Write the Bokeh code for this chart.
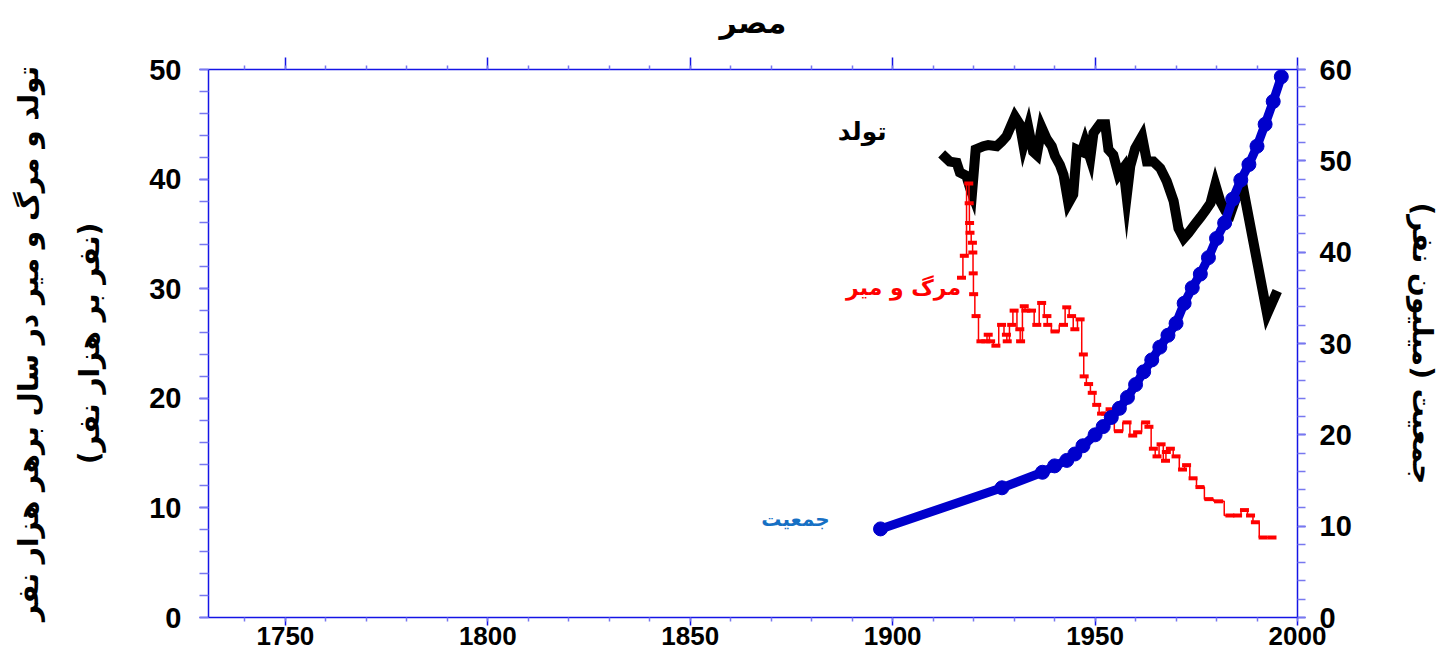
from bokeh.plotting import figure
from bokeh.models import Range1d, LinearAxis, SingleIntervalTicker, CustomJSTickFormatter
from bokeh.core.properties import value
from bokeh.embed import file_html
from bokeh.resources import INLINE

# ---------------- data ----------------
birth_years = [1912.1, 1914.1, 1915.8, 1916.6, 1918.2, 1919.1, 1919.6, 1920.5, 1922.4, 1923.6,
               1925.7, 1926.9, 1928.1, 1930.2, 1931.4, 1932.3, 1933.5, 1934.7, 1935.6, 1936.8,
               1938.0, 1939.3, 1940.1, 1941.3, 1942.2, 1943.4, 1944.6, 1945.5, 1946.7, 1947.5,
               1948.8, 1949.6, 1951.2, 1952.5, 1953.3, 1954.5, 1955.8, 1957.0, 1957.8, 1958.7,
               1959.9, 1961.6, 1962.8, 1964.4, 1966.1, 1967.7, 1969.4, 1970.6, 1971.9, 1973.1,
               1974.3, 1976.0, 1977.2, 1978.5, 1979.7, 1980.9, 1982.2, 1983.4, 1985.1, 1986.5,
               1992.5, 1995.0]
birth_rate = [42.3, 41.6, 41.5, 40.6, 40.3, 39.2, 38.7, 42.7, 43.0, 43.1,
              43.0, 43.4, 43.9, 45.7, 45.0, 43.1, 44.7, 42.5, 42.2, 44.7,
              43.7, 43.0, 42.1, 41.3, 40.4, 37.8, 38.6, 42.7, 42.5, 43.4,
              41.9, 44.2, 45.0, 45.0, 42.7, 42.2, 40.4, 41.0, 38.4, 41.2,
              42.8, 43.9, 41.6, 41.6, 41.0, 39.8, 38.0, 35.5, 34.6, 35.1,
              35.7, 36.5, 37.1, 37.8, 39.5, 38.0, 37.1, 36.8, 38.6, 39.3,
              27.7, 29.8]

death_years = [1917.0, 1917.7, 1918.8, 1918.9, 1919.0, 1919.1, 1919.7, 1919.8, 1919.9, 1920.0,
               1920.6, 1921.8, 1923.0, 1923.6, 1924.2, 1925.5, 1926.9, 1928.1, 1928.3, 1929.4,
               1930.0, 1931.4, 1931.6, 1932.5, 1932.9, 1934.3, 1935.6, 1936.8, 1938.1, 1938.3,
               1940.1, 1942.2, 1943.0, 1944.2, 1945.0, 1946.3, 1947.1, 1947.3, 1948.4, 1949.3,
               1950.4, 1951.6, 1952.6, 1953.7, 1955.8, 1957.9, 1959.3, 1960.5, 1962.5, 1963.3,
               1964.4, 1965.3, 1966.3, 1967.4, 1967.6, 1968.6, 1970.0, 1971.6, 1972.6, 1974.2,
               1975.9, 1978.1, 1980.5, 1983.3, 1985.2, 1986.9, 1988.4, 1989.6, 1991.5, 1993.7]
death_rate = [31.0, 33.0, 39.6, 37.8, 36.0, 35.1, 34.2, 33.3, 31.4, 29.5,
              27.5, 25.2, 25.2, 25.8, 25.2, 24.8, 26.7, 25.8, 25.2, 26.7,
              28.0, 26.3, 25.2, 28.4, 28.0, 28.0, 26.7, 28.7, 27.5, 26.7,
              26.1, 26.7, 28.3, 27.5, 26.3, 27.2, 24.0, 22.0, 21.3, 20.5,
              19.4, 18.6, 18.6, 19.0, 17.0, 17.8, 16.6, 16.9, 17.8, 17.4,
              15.4, 14.7, 15.8, 14.3, 15.1, 15.4, 14.7, 13.5, 13.9, 12.7,
              11.9, 10.8, 10.6, 9.3, 9.3, 9.8, 9.3, 8.7, 7.3, 7.3]

pop_years = [1897, 1927, 1937, 1940, 1943, 1945, 1947, 1950, 1952, 1954, 1956, 1958, 1960,
             1962, 1964, 1966, 1968, 1970, 1972, 1974, 1976, 1978, 1980, 1982, 1984, 1986,
             1988, 1990, 1992, 1994, 1996]
pop_millions = [9.7, 14.2, 15.9, 16.6, 17.2, 17.9, 18.8, 20.0, 20.9, 21.9, 22.9, 24.1, 25.5,
                26.9, 28.2, 29.6, 30.9, 32.2, 34.4, 36.1, 37.6, 39.4, 41.5, 43.2, 45.8, 47.9,
                49.6, 51.6, 54.0, 56.5, 59.2]

title_text = "مصر"
left_label = "تولد و مرگ و میر در سال برهر هزار نفر\n(نفر بر هزار نفر)"
right_label = "جمعیت (میلیون نفر)\u200f"
series_names = ["تولد", "مرگ و میر", "جمعیت"]

# ---------------- layout / style constants ----------------
ARABIC_FONT = "DejaVu Sans"
AXIS_BLUE = "#1414e6"
MINOR_BLUE = "#7878f0"

p = figure(width=1448, height=658,
           x_range=Range1d(1731, 2000), y_range=Range1d(0, 50),
           output_backend="svg", toolbar_location=None,
           min_border_left=208, min_border_right=151,
           min_border_top=68, min_border_bottom=41,
           background_fill_color="white", border_fill_color="white")
p.extra_y_ranges = {"pop": Range1d(0, 60)}
p.outline_line_color = None
p.xgrid.visible = False
p.ygrid.visible = False

p.title.text = title_text
p.title.align = "center"
p.title.text_font = ARABIC_FONT
p.title.text_font_size = "30px"
p.title.text_font_style = "bold"
p.title.text_color = "black"
p.title.standoff = 4


def style_axis(ax, tick_out, minor_out, font, size, standoff):
    ax.axis_line_color = AXIS_BLUE
    ax.axis_line_width = 1.5
    ax.major_tick_line_color = AXIS_BLUE
    ax.major_tick_line_width = 1.5
    ax.minor_tick_line_color = MINOR_BLUE
    ax.minor_tick_line_width = 1.5
    ax.major_tick_in = 0
    ax.major_tick_out = tick_out
    ax.minor_tick_in = 0
    ax.minor_tick_out = minor_out
    ax.major_label_text_font = font
    ax.major_label_text_font_size = size
    ax.major_label_text_font_style = "bold"
    ax.major_label_text_color = "black"
    ax.major_label_standoff = standoff


# bottom axis
xax = p.xaxis[0]
xax.ticker = SingleIntervalTicker(interval=50, num_minor_ticks=5)
style_axis(xax, 8, 4, "Liberation Sans", "26px", 1)

# top axis (ticks only; blank labels reserve a little room under the title)
top = LinearAxis(ticker=SingleIntervalTicker(interval=50, num_minor_ticks=5),
                 formatter=CustomJSTickFormatter(code="return ' '"))
style_axis(top, 12, 4, "Liberation Sans", "10px", 2)
p.add_layout(top, "above")

# left axis
yax = p.yaxis[0]
yax.ticker = SingleIntervalTicker(interval=10, num_minor_ticks=5)
style_axis(yax, 9, 9, "Liberation Sans", "29px", 18)
yax.axis_label = left_label
yax.axis_label_text_font = ARABIC_FONT
yax.axis_label_text_font_size = "28px"
yax.axis_label_text_font_style = "bold"
yax.axis_label_text_color = "black"
yax.axis_label_text_line_height = 1.85
yax.axis_label_standoff = 40

# right axis
rax = LinearAxis(y_range_name="pop", ticker=SingleIntervalTicker(interval=10, num_minor_ticks=5))
style_axis(rax, 8, 8, "Liberation Sans", "29px", 14)
rax.axis_label = right_label
rax.axis_label_text_font = ARABIC_FONT
rax.axis_label_text_font_size = "28px"
rax.axis_label_text_font_style = "bold"
rax.axis_label_text_color = "black"
rax.axis_label_standoff = 51
p.add_layout(rax, "right")

# series
p.line(birth_years, birth_rate, line_width=10, color="black", line_join="miter")

p.step(death_years, death_rate, mode="center", line_width=1.5, color="red")
p.scatter(death_years, death_rate, marker="dash", size=9, line_width=4, color="red")

p.line(pop_years, pop_millions, y_range_name="pop", line_width=9, color="#0000cc")
p.scatter(pop_years, pop_millions, y_range_name="pop", marker="circle", size=14,
          color="#0000cc")

# in-plot series names
p.text(x=[1892.5], y=[44.3], text=[series_names[0]], text_color="black",
       text_font=value(ARABIC_FONT), text_font_size="25px", text_font_style="bold",
       text_align="center", text_baseline="middle")
p.text(x=[1902.7], y=[30.1], text=[series_names[1]], text_color="red",
       text_font=value(ARABIC_FONT), text_font_size="22px", text_font_style="bold",
       text_align="center", text_baseline="middle")
p.text(x=[1876.0], y=[9.0], text=[series_names[2]], text_color="#1670c4",
       text_font=value(ARABIC_FONT), text_font_size="20px", text_font_style="bold",
       text_align="center", text_baseline="middle")

open("out.html", "w").write(file_html(p, INLINE))
